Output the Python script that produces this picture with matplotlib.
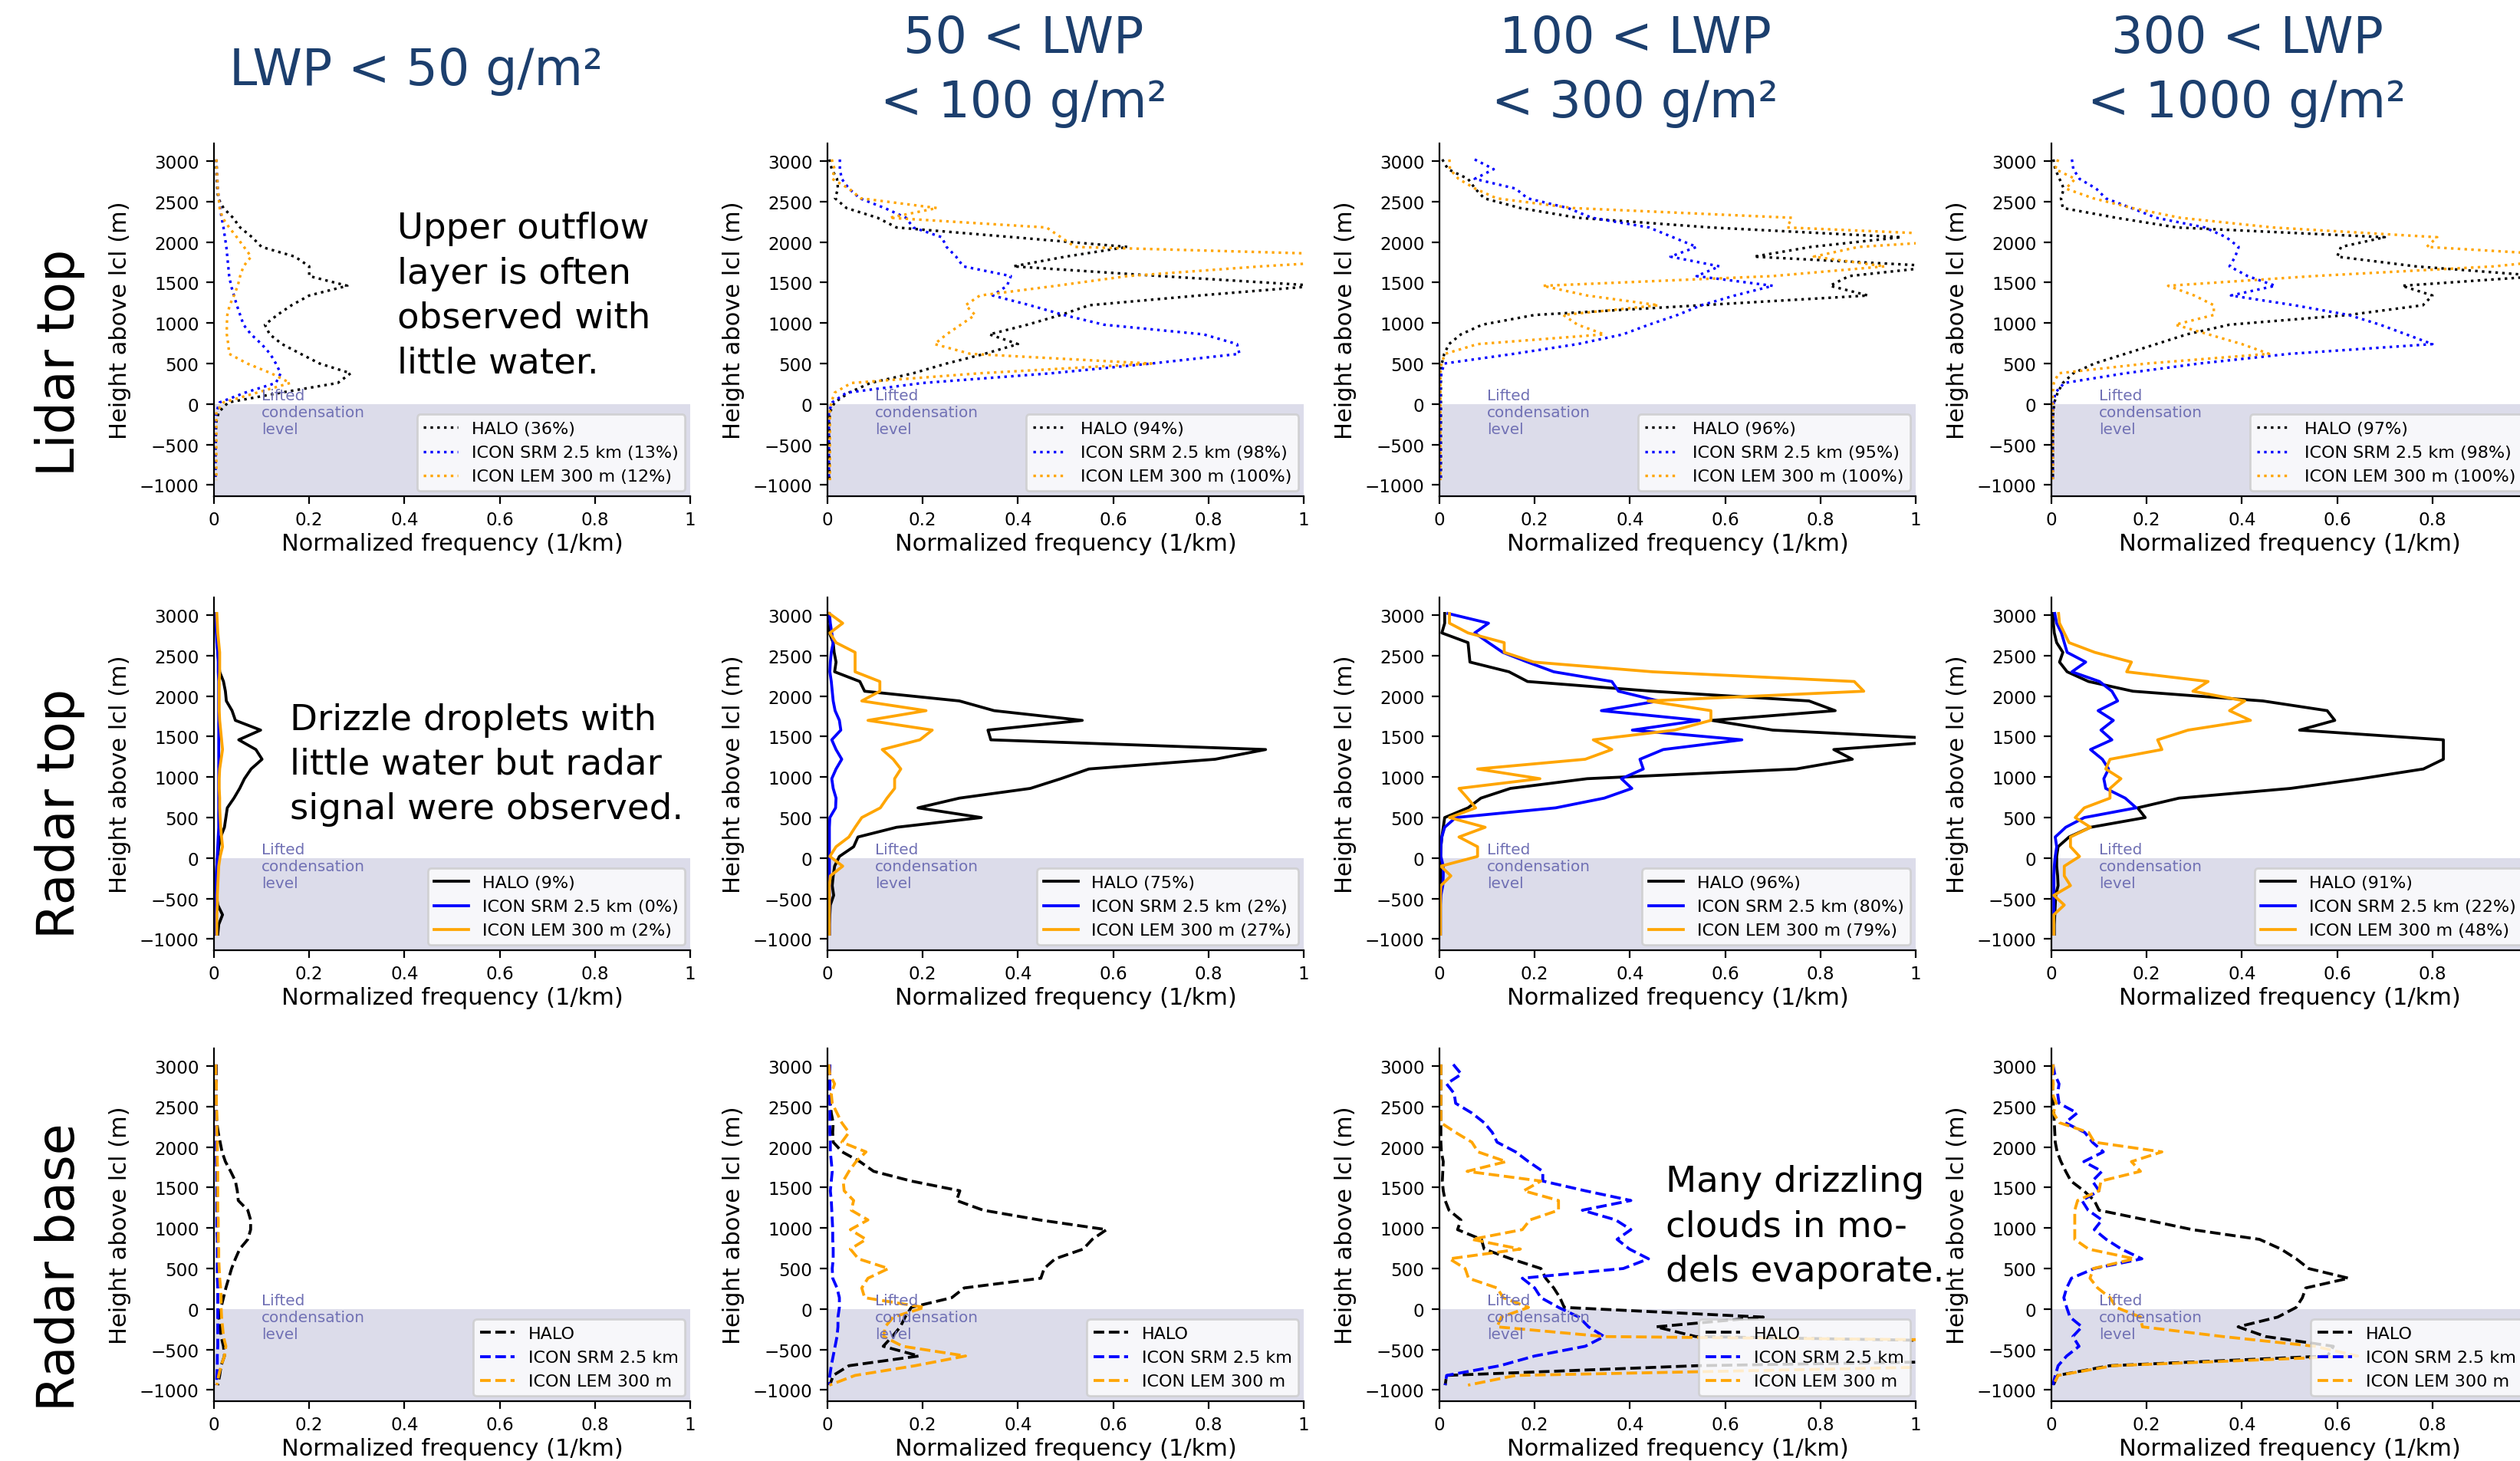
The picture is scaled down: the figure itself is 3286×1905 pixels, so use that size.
import matplotlib
matplotlib.use("Agg")
import matplotlib.pyplot as plt

# ---------------- data ----------------
heights = [3020, 2900, 2780, 2660, 2540, 2420, 2300, 2180, 2060, 1940,
           1820, 1700, 1580, 1460, 1340, 1220, 1100, 980, 860, 740,
           620, 500, 380, 260, 140, 20, -100, -220, -340, -460,
           -580, -700, -820, -940]

col_titles = ["LWP < 50 g/m²", "50 < LWP\n< 100 g/m²", "100 < LWP\n< 300 g/m²", "300 < LWP\n< 1000 g/m²"]
row_titles = ["Lidar top", "Radar top", "Radar base"]
series_names = ["HALO", "ICON SRM 2.5 km", "ICON LEM 300 m"]
lidar_pct = [[36, 13, 12], [94, 98, 100], [96, 95, 100], [97, 98, 100]]
radar_pct = [[9, 0, 2], [75, 2, 27], [96, 80, 79], [91, 22, 48]]

# Lidar top
lidar_halo_lwp50 = [0.005, 0.005, 0.006, 0.007, 0.009, 0.020, 0.040, 0.055, 0.080, 0.100,
                    0.170, 0.200, 0.200, 0.280, 0.200, 0.163, 0.133, 0.107, 0.117, 0.143,
                    0.182, 0.222, 0.287, 0.260, 0.140, 0.030, 0.010, 0.005, 0.004, 0.004,
                    0.003, 0.003, 0.003, 0.003]
lidar_srm_lwp50 = [0.005, 0.006, 0.007, 0.008, 0.010, 0.013, 0.016, 0.020, 0.023, 0.026,
                   0.028, 0.030, 0.032, 0.036, 0.042, 0.048, 0.055, 0.062, 0.078, 0.100,
                   0.118, 0.130, 0.140, 0.130, 0.065, 0.012, 0.005, 0.003, 0.003, 0.003,
                   0.003, 0.003, 0.003, 0.003]
lidar_lem_lwp50 = [0.005, 0.006, 0.007, 0.008, 0.010, 0.012, 0.018, 0.032, 0.048, 0.063,
                   0.078, 0.062, 0.055, 0.050, 0.042, 0.033, 0.028, 0.027, 0.027, 0.030,
                   0.032, 0.070, 0.120, 0.160, 0.090, 0.020, 0.005, 0.005, 0.005, 0.005,
                   0.005, 0.005, 0.005, 0.005]
lidar_halo_lwp100 = [0.004, 0.009, 0.020, 0.022, 0.016, 0.040, 0.105, 0.145, 0.390, 0.630,
                     0.500, 0.390, 0.700, 1.030, 0.780, 0.550, 0.490, 0.420, 0.340, 0.400,
                     0.330, 0.250, 0.180, 0.090, 0.045, 0.015, 0.005, 0.004, 0.004, 0.004,
                     0.004, 0.004, 0.004, 0.004]
lidar_srm_lwp100 = [0.026, 0.026, 0.030, 0.045, 0.068, 0.120, 0.165, 0.180, 0.240, 0.250,
                    0.270, 0.285, 0.385, 0.377, 0.347, 0.425, 0.496, 0.580, 0.790, 0.860,
                    0.865, 0.680, 0.470, 0.200, 0.040, 0.010, 0.003, 0.003, 0.003, 0.003,
                    0.003, 0.003, 0.003, 0.003]
lidar_lem_lwp100 = [0.009, 0.015, 0.010, 0.045, 0.070, 0.230, 0.130, 0.460, 0.490, 0.520,
                    1.250, 0.910, 0.630, 0.480, 0.320, 0.290, 0.310, 0.280, 0.250, 0.225,
                    0.300, 0.680, 0.320, 0.050, 0.015, 0.008, 0.005, 0.005, 0.005, 0.005,
                    0.005, 0.005, 0.005, 0.005]
lidar_halo_lwp300 = [0.006, 0.018, 0.060, 0.075, 0.094, 0.170, 0.290, 0.570, 0.970, 0.780,
                     0.660, 1.050, 0.860, 0.820, 0.900, 0.550, 0.200, 0.090, 0.045, 0.020,
                     0.010, 0.005, 0.003, 0.003, 0.003, 0.003, 0.003, 0.003, 0.003, 0.003,
                     0.003, 0.003, 0.003, 0.003]
lidar_srm_lwp300 = [0.074, 0.114, 0.074, 0.160, 0.185, 0.270, 0.320, 0.440, 0.490, 0.540,
                    0.485, 0.588, 0.540, 0.700, 0.620, 0.550, 0.500, 0.440, 0.385, 0.290,
                    0.156, 0.010, 0.004, 0.002, 0.002, 0.002, 0.002, 0.002, 0.002, 0.002,
                    0.002, 0.002, 0.002, 0.002]
lidar_lem_lwp300 = [0.021, 0.022, 0.040, 0.075, 0.120, 0.280, 0.740, 0.730, 1.200, 0.880,
                    0.786, 0.935, 0.700, 0.217, 0.310, 0.460, 0.260, 0.290, 0.346, 0.080,
                    0.012, 0.004, 0.002, 0.002, 0.002, 0.002, 0.002, 0.002, 0.002, 0.002,
                    0.002, 0.002, 0.002, 0.002]
lidar_halo_lwp1000 = [0.004, 0.008, 0.017, 0.026, 0.020, 0.024, 0.136, 0.264, 0.700, 0.608,
                      0.600, 0.765, 1.030, 0.736, 0.800, 0.780, 0.624, 0.374, 0.284, 0.220,
                      0.155, 0.090, 0.046, 0.024, 0.013, 0.006, 0.004, 0.003, 0.003, 0.003,
                      0.003, 0.003, 0.003, 0.003]
lidar_srm_lwp1000 = [0.043, 0.046, 0.059, 0.094, 0.114, 0.168, 0.220, 0.322, 0.367, 0.393,
                     0.386, 0.374, 0.412, 0.470, 0.377, 0.510, 0.624, 0.690, 0.745, 0.800,
                     0.500, 0.310, 0.155, 0.027, 0.008, 0.005, 0.003, 0.003, 0.003, 0.003,
                     0.003, 0.003, 0.003, 0.003]
lidar_lem_lwp1000 = [0.014, 0.008, 0.050, 0.030, 0.088, 0.170, 0.270, 0.465, 0.810, 0.788,
                     1.130, 0.930, 0.550, 0.245, 0.300, 0.341, 0.341, 0.260, 0.330, 0.400,
                     0.457, 0.200, 0.015, 0.005, 0.003, 0.003, 0.003, 0.003, 0.003, 0.003,
                     0.003, 0.003, 0.003, 0.003]

# Radar top
radar_halo_lwp50 = [0.005, 0.005, 0.006, 0.007, 0.008, 0.010, 0.012, 0.020, 0.024, 0.026,
                    0.038, 0.045, 0.098, 0.052, 0.088, 0.101, 0.078, 0.064, 0.054, 0.042,
                    0.028, 0.025, 0.022, 0.014, 0.010, 0.008, 0.006, 0.005, 0.005, 0.005,
                    0.008, 0.018, 0.010, 0.008]
radar_srm_lwp50 = [0.004, 0.004, 0.005, 0.006, 0.008, 0.009, 0.009, 0.010, 0.010, 0.010,
                   0.010, 0.010, 0.010, 0.010, 0.010, 0.010, 0.010, 0.010, 0.010, 0.010,
                   0.010, 0.010, 0.010, 0.009, 0.008, 0.007, 0.006, 0.005, 0.004, 0.004,
                   0.004, 0.004, 0.004, 0.004]
radar_lem_lwp50 = [0.006, 0.007, 0.008, 0.010, 0.012, 0.012, 0.012, 0.011, 0.011, 0.011,
                   0.011, 0.012, 0.014, 0.016, 0.018, 0.015, 0.012, 0.011, 0.011, 0.012,
                   0.012, 0.013, 0.014, 0.016, 0.018, 0.013, 0.010, 0.009, 0.008, 0.007,
                   0.007, 0.006, 0.006, 0.006]
radar_halo_lwp100 = [0.002, 0.005, 0.004, 0.012, 0.014, 0.018, 0.015, 0.068, 0.078, 0.277,
                     0.350, 0.535, 0.337, 0.343, 0.920, 0.814, 0.549, 0.490, 0.426, 0.277,
                     0.190, 0.323, 0.145, 0.064, 0.055, 0.025, 0.015, 0.012, 0.010, 0.013,
                     0.006, 0.005, 0.004, 0.004]
radar_srm_lwp100 = [0.004, 0.006, 0.009, 0.012, 0.008, 0.006, 0.005, 0.008, 0.010, 0.012,
                    0.016, 0.025, 0.028, 0.009, 0.018, 0.030, 0.018, 0.009, 0.012, 0.018,
                    0.017, 0.005, 0.004, 0.004, 0.004, 0.004, 0.004, 0.004, 0.004, 0.004,
                    0.004, 0.004, 0.004, 0.004]
radar_lem_lwp100 = [0.004, 0.032, 0.005, 0.018, 0.058, 0.058, 0.058, 0.110, 0.110, 0.072,
                    0.207, 0.085, 0.220, 0.194, 0.115, 0.138, 0.154, 0.141, 0.141, 0.125,
                    0.111, 0.072, 0.058, 0.045, 0.018, 0.005, 0.032, 0.006, 0.004, 0.004,
                    0.004, 0.004, 0.004, 0.004]
radar_halo_lwp300 = [0.011, 0.011, 0.005, 0.060, 0.062, 0.064, 0.146, 0.185, 0.447, 0.776,
                     0.831, 0.572, 0.700, 1.100, 0.828, 0.867, 0.749, 0.310, 0.149, 0.087,
                     0.060, 0.011, 0.008, 0.005, 0.003, 0.002, 0.002, 0.002, 0.002, 0.002,
                     0.002, 0.002, 0.002, 0.002]
radar_srm_lwp300 = [0.018, 0.103, 0.074, 0.103, 0.133, 0.185, 0.240, 0.362, 0.376, 0.460,
                    0.340, 0.546, 0.405, 0.635, 0.470, 0.421, 0.428, 0.382, 0.404, 0.346,
                    0.244, 0.034, 0.011, 0.005, 0.003, 0.003, 0.008, 0.008, 0.007, 0.003,
                    0.002, 0.002, 0.002, 0.002]
radar_lem_lwp300 = [0.021, 0.021, 0.060, 0.136, 0.136, 0.198, 0.447, 0.871, 0.891, 0.438,
                    0.570, 0.570, 0.494, 0.323, 0.362, 0.306, 0.080, 0.211, 0.041, 0.059,
                    0.076, 0.021, 0.096, 0.041, 0.080, 0.080, 0.003, 0.024, 0.003, 0.002,
                    0.002, 0.002, 0.002, 0.002]
radar_halo_lwp1000 = [0.004, 0.004, 0.006, 0.011, 0.024, 0.017, 0.033, 0.078, 0.171, 0.444,
                      0.579, 0.595, 0.521, 0.823, 0.823, 0.823, 0.781, 0.650, 0.502, 0.268,
                      0.181, 0.197, 0.082, 0.037, 0.014, 0.011, 0.011, 0.013, 0.014, 0.009,
                      0.008, 0.007, 0.006, 0.006]
radar_srm_lwp1000 = [0.007, 0.011, 0.021, 0.027, 0.033, 0.072, 0.043, 0.101, 0.127, 0.139,
                     0.098, 0.130, 0.104, 0.127, 0.082, 0.107, 0.120, 0.110, 0.114, 0.155,
                     0.178, 0.069, 0.030, 0.008, 0.011, 0.008, 0.006, 0.005, 0.005, 0.005,
                     0.005, 0.005, 0.005, 0.005]
radar_lem_lwp1000 = [0.015, 0.017, 0.027, 0.037, 0.091, 0.168, 0.158, 0.329, 0.297, 0.406,
                     0.374, 0.418, 0.287, 0.223, 0.232, 0.123, 0.114, 0.146, 0.123, 0.123,
                     0.069, 0.050, 0.082, 0.040, 0.040, 0.059, 0.027, 0.027, 0.040, 0.005,
                     0.027, 0.005, 0.005, 0.005]

# Radar base
base_halo_lwp50 = [0.005, 0.005, 0.005, 0.005, 0.005, 0.005, 0.006, 0.009, 0.013, 0.017,
                   0.024, 0.035, 0.045, 0.049, 0.051, 0.071, 0.077, 0.077, 0.071, 0.054,
                   0.045, 0.037, 0.031, 0.025, 0.020, 0.015, 0.010, 0.013, 0.015, 0.020,
                   0.022, 0.015, 0.012, 0.008]
base_srm_lwp50 = [0.004, 0.004, 0.005, 0.005, 0.005, 0.005, 0.005, 0.005, 0.005, 0.005,
                  0.005, 0.006, 0.006, 0.006, 0.006, 0.006, 0.006, 0.006, 0.007, 0.007,
                  0.007, 0.007, 0.007, 0.008, 0.008, 0.008, 0.008, 0.008, 0.008, 0.008,
                  0.007, 0.007, 0.006, 0.005]
base_lem_lwp50 = [0.004, 0.004, 0.005, 0.005, 0.005, 0.006, 0.006, 0.006, 0.007, 0.007,
                  0.007, 0.008, 0.008, 0.008, 0.008, 0.008, 0.009, 0.009, 0.009, 0.010,
                  0.010, 0.011, 0.012, 0.014, 0.015, 0.015, 0.016, 0.018, 0.020, 0.025,
                  0.022, 0.015, 0.010, 0.006]
base_halo_lwp100 = [0.002, 0.003, 0.004, 0.005, 0.006, 0.008, 0.012, 0.011, 0.012, 0.031,
                    0.068, 0.097, 0.176, 0.278, 0.271, 0.327, 0.445, 0.586, 0.556, 0.537,
                    0.478, 0.455, 0.448, 0.287, 0.261, 0.176, 0.163, 0.153, 0.136, 0.117,
                    0.192, 0.045, 0.012, 0.005]
base_srm_lwp100 = [0.005, 0.005, 0.005, 0.005, 0.005, 0.005, 0.005, 0.005, 0.006, 0.006,
                   0.008, 0.010, 0.008, 0.006, 0.008, 0.009, 0.010, 0.011, 0.011, 0.012,
                   0.012, 0.010, 0.011, 0.020, 0.025, 0.025, 0.022, 0.022, 0.020, 0.016,
                   0.012, 0.008, 0.005, 0.004]
base_lem_lwp100 = [0.003, 0.005, 0.015, 0.008, 0.010, 0.020, 0.030, 0.045, 0.030, 0.081,
                   0.060, 0.045, 0.033, 0.035, 0.055, 0.050, 0.085, 0.048, 0.081, 0.048,
                   0.065, 0.128, 0.085, 0.072, 0.078, 0.204, 0.138, 0.121, 0.118, 0.158,
                   0.290, 0.184, 0.058, 0.004]
base_halo_lwp300 = [0.003, 0.003, 0.003, 0.003, 0.003, 0.003, 0.003, 0.003, 0.003, 0.004,
                    0.008, 0.007, 0.006, 0.008, 0.012, 0.020, 0.045, 0.038, 0.088, 0.094,
                    0.150, 0.213, 0.223, 0.240, 0.253, 0.262, 0.680, 0.455, 0.538, 1.750,
                    1.800, 0.540, 0.015, 0.012]
base_srm_lwp300 = [0.029, 0.046, 0.015, 0.031, 0.034, 0.068, 0.094, 0.111, 0.121, 0.160,
                   0.187, 0.217, 0.217, 0.306, 0.402, 0.300, 0.370, 0.402, 0.373, 0.399,
                   0.439, 0.386, 0.174, 0.200, 0.213, 0.250, 0.293, 0.313, 0.346, 0.306,
                   0.200, 0.127, 0.015, 0.012]
base_lem_lwp300 = [0.003, 0.003, 0.003, 0.003, 0.003, 0.003, 0.003, 0.034, 0.068, 0.081,
                   0.140, 0.058, 0.213, 0.177, 0.250, 0.250, 0.190, 0.174, 0.068, 0.170,
                   0.021, 0.054, 0.061, 0.121, 0.134, 0.187, 0.130, 0.121, 0.346, 2.400,
                   2.000, 1.170, 0.160, 0.060]
base_halo_lwp1000 = [0.002, 0.002, 0.002, 0.003, 0.004, 0.005, 0.006, 0.007, 0.008, 0.012,
                     0.020, 0.030, 0.041, 0.068, 0.090, 0.100, 0.199, 0.296, 0.437, 0.482,
                     0.514, 0.540, 0.624, 0.534, 0.527, 0.514, 0.475, 0.392, 0.450, 0.592,
                     0.580, 0.122, 0.013, 0.004]
base_srm_lwp1000 = [0.003, 0.007, 0.016, 0.013, 0.016, 0.054, 0.029, 0.070, 0.086, 0.109,
                    0.068, 0.106, 0.086, 0.100, 0.064, 0.077, 0.106, 0.090, 0.115, 0.147,
                    0.190, 0.090, 0.042, 0.032, 0.026, 0.032, 0.039, 0.064, 0.045, 0.058,
                    0.032, 0.014, 0.008, 0.003]
base_lem_lwp1000 = [0.004, 0.002, 0.004, 0.002, 0.010, 0.004, 0.017, 0.078, 0.090, 0.232,
                    0.168, 0.187, 0.104, 0.100, 0.055, 0.049, 0.049, 0.049, 0.049, 0.078,
                    0.174, 0.088, 0.081, 0.097, 0.123, 0.136, 0.187, 0.191, 0.360, 0.553,
                    0.643, 0.130, 0.014, 0.004]

# ---------------- assemble ----------------
panels = [
    [(lidar_halo_lwp50, lidar_srm_lwp50, lidar_lem_lwp50),
     (lidar_halo_lwp100, lidar_srm_lwp100, lidar_lem_lwp100),
     (lidar_halo_lwp300, lidar_srm_lwp300, lidar_lem_lwp300),
     (lidar_halo_lwp1000, lidar_srm_lwp1000, lidar_lem_lwp1000)],
    [(radar_halo_lwp50, radar_srm_lwp50, radar_lem_lwp50),
     (radar_halo_lwp100, radar_srm_lwp100, radar_lem_lwp100),
     (radar_halo_lwp300, radar_srm_lwp300, radar_lem_lwp300),
     (radar_halo_lwp1000, radar_srm_lwp1000, radar_lem_lwp1000)],
    [(base_halo_lwp50, base_srm_lwp50, base_lem_lwp50),
     (base_halo_lwp100, base_srm_lwp100, base_lem_lwp100),
     (base_halo_lwp300, base_srm_lwp300, base_lem_lwp300),
     (base_halo_lwp1000, base_srm_lwp1000, base_lem_lwp1000)],
]
pcts = [lidar_pct, radar_pct, None]

colors = ["black", "blue", "orange"]
styles = [":", "-", "--"]
widths = [1.2, 1.35, 1.35]

W, H = 3286, 1906
fig = plt.figure(figsize=(W / 200, H / 200), dpi=200)

col_left = [279, 1079, 1877, 2675]
row_top = [188, 780, 1368]
ax_w, ax_h = 621, 460

annotations = {
    (0, 0): ("Upper outflow\nlayer is often\nobserved with\nlittle water.", 0.385, 1340),
    (1, 0): ("Drizzle droplets with\nlittle water but radar\nsignal were observed.", 0.16, 1160),
    (2, 2): ("Many drizzling\nclouds in mo-\ndels evaporate.", 0.475, 1020),
}

for r in range(3):
    for c in range(4):
        ax = fig.add_axes([col_left[c] / W, 1 - (row_top[r] + ax_h) / H, ax_w / W, ax_h / H])
        ax.axhspan(-3000, 0, color="#dcdcea", lw=0, zorder=0)
        for s in range(3):
            if pcts[r] is not None:
                lab = f"{series_names[s]} ({pcts[r][c][s]}%)"
            else:
                lab = series_names[s]
            ax.plot(panels[r][c][s], heights, color=colors[s], ls=styles[r], lw=widths[r], label=lab)
        ax.set_xlim(0, 1)
        ax.set_ylim(-1138, 3218)
        ax.set_yticks(list(range(-1000, 3001, 500)))
        ax.set_xticks([0, 0.2, 0.4, 0.6, 0.8, 1])
        ax.set_xticklabels(["0", "0.2", "0.4", "0.6", "0.8", "1"])
        ax.tick_params(labelsize=8.3)
        ax.set_xlabel("Normalized frequency (1/km)", fontsize=11, labelpad=1.5)
        ax.set_ylabel("Height above lcl (m)", fontsize=11)
        ax.spines["top"].set_visible(False)
        ax.spines["right"].set_visible(False)
        ax.text(0.1, -100, "Lifted\ncondensation\nlevel", color="#7070b4", fontsize=7.2,
                va="center", ha="left")
        ax.legend(loc="lower right", fontsize=8, borderaxespad=0.3)
        if (r, c) in annotations:
            txt, tx, ty = annotations[(r, c)]
            ax.text(tx, ty, txt, fontsize=16.8, va="center", ha="left", linespacing=1.38)

title_x = [543, 1335, 2132, 2930]
for c in range(4):
    fig.text(title_x[c] / W, 1 - 93 / H, col_titles[c], ha="center", va="center",
             fontsize=23.5, color="#1c3f6e", linespacing=1.4)

row_y = [473, 1061, 1652]
for r in range(3):
    fig.text(78 / W, 1 - row_y[r] / H, row_titles[r], rotation=90, ha="center", va="center",
             fontsize=24)

fig.savefig("out.png", dpi=200)
